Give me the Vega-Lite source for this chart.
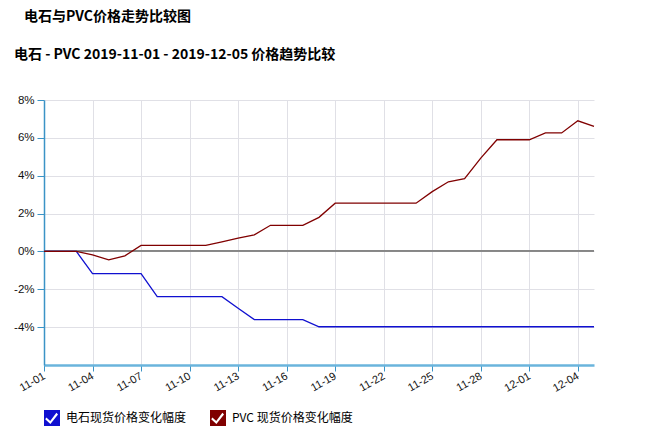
{
  "$schema": "https://vega.github.io/schema/vega-lite/v6.json",
  "width": 550,
  "height": 265,
  "autosize": {"type": "none"},
  "padding": {"left": 44, "top": 100, "right": 52, "bottom": 70},
  "background": "#ffffff",
  "title": {
    "text": "\u2800电石与PVC价格走势比较图",
    "subtitle": "电石 - PVC 2019-11-01 - 2019-12-05 价格趋势比较",
    "anchor": "start",
    "frame": "group",
    "dx": -30,
    "offset": 32,
    "font": "Noto Sans CJK SC",
    "fontSize": 14,
    "fontWeight": "bold",
    "color": "#000000",
    "subtitleFont": "Noto Sans CJK SC",
    "subtitleFontSize": 14,
    "subtitleFontWeight": "bold",
    "subtitleColor": "#000000",
    "subtitlePadding": 24
  },
  "data": {
    "values": [
      {"date": "2019-11-01", "series": "电石现货价格变化幅度", "value": 0},
      {"date": "2019-11-02", "series": "电石现货价格变化幅度", "value": 0},
      {"date": "2019-11-03", "series": "电石现货价格变化幅度", "value": 0},
      {"date": "2019-11-04", "series": "电石现货价格变化幅度", "value": -1.17},
      {"date": "2019-11-05", "series": "电石现货价格变化幅度", "value": -1.17},
      {"date": "2019-11-06", "series": "电石现货价格变化幅度", "value": -1.17},
      {"date": "2019-11-07", "series": "电石现货价格变化幅度", "value": -1.17},
      {"date": "2019-11-08", "series": "电石现货价格变化幅度", "value": -2.39},
      {"date": "2019-11-09", "series": "电石现货价格变化幅度", "value": -2.39},
      {"date": "2019-11-10", "series": "电石现货价格变化幅度", "value": -2.39},
      {"date": "2019-11-11", "series": "电石现货价格变化幅度", "value": -2.39},
      {"date": "2019-11-12", "series": "电石现货价格变化幅度", "value": -2.39},
      {"date": "2019-11-13", "series": "电石现货价格变化幅度", "value": -3.0},
      {"date": "2019-11-14", "series": "电石现货价格变化幅度", "value": -3.6},
      {"date": "2019-11-15", "series": "电石现货价格变化幅度", "value": -3.6},
      {"date": "2019-11-16", "series": "电石现货价格变化幅度", "value": -3.6},
      {"date": "2019-11-17", "series": "电石现货价格变化幅度", "value": -3.6},
      {"date": "2019-11-18", "series": "电石现货价格变化幅度", "value": -3.98},
      {"date": "2019-11-19", "series": "电石现货价格变化幅度", "value": -3.98},
      {"date": "2019-11-20", "series": "电石现货价格变化幅度", "value": -3.98},
      {"date": "2019-11-21", "series": "电石现货价格变化幅度", "value": -3.98},
      {"date": "2019-11-22", "series": "电石现货价格变化幅度", "value": -3.98},
      {"date": "2019-11-23", "series": "电石现货价格变化幅度", "value": -3.98},
      {"date": "2019-11-24", "series": "电石现货价格变化幅度", "value": -3.98},
      {"date": "2019-11-25", "series": "电石现货价格变化幅度", "value": -3.98},
      {"date": "2019-11-26", "series": "电石现货价格变化幅度", "value": -3.98},
      {"date": "2019-11-27", "series": "电石现货价格变化幅度", "value": -3.98},
      {"date": "2019-11-28", "series": "电石现货价格变化幅度", "value": -3.98},
      {"date": "2019-11-29", "series": "电石现货价格变化幅度", "value": -3.98},
      {"date": "2019-11-30", "series": "电石现货价格变化幅度", "value": -3.98},
      {"date": "2019-12-01", "series": "电石现货价格变化幅度", "value": -3.98},
      {"date": "2019-12-02", "series": "电石现货价格变化幅度", "value": -3.98},
      {"date": "2019-12-03", "series": "电石现货价格变化幅度", "value": -3.98},
      {"date": "2019-12-04", "series": "电石现货价格变化幅度", "value": -3.98},
      {"date": "2019-12-05", "series": "电石现货价格变化幅度", "value": -3.98},
      {"date": "2019-11-01", "series": "PVC 现货价格变化幅度", "value": 0},
      {"date": "2019-11-02", "series": "PVC 现货价格变化幅度", "value": 0},
      {"date": "2019-11-03", "series": "PVC 现货价格变化幅度", "value": 0},
      {"date": "2019-11-04", "series": "PVC 现货价格变化幅度", "value": -0.18},
      {"date": "2019-11-05", "series": "PVC 现货价格变化幅度", "value": -0.44},
      {"date": "2019-11-06", "series": "PVC 现货价格变化幅度", "value": -0.23},
      {"date": "2019-11-07", "series": "PVC 现货价格变化幅度", "value": 0.32},
      {"date": "2019-11-08", "series": "PVC 现货价格变化幅度", "value": 0.32},
      {"date": "2019-11-09", "series": "PVC 现货价格变化幅度", "value": 0.32},
      {"date": "2019-11-10", "series": "PVC 现货价格变化幅度", "value": 0.32},
      {"date": "2019-11-11", "series": "PVC 现货价格变化幅度", "value": 0.32},
      {"date": "2019-11-12", "series": "PVC 现货价格变化幅度", "value": 0.51},
      {"date": "2019-11-13", "series": "PVC 现货价格变化幅度", "value": 0.7},
      {"date": "2019-11-14", "series": "PVC 现货价格变化幅度", "value": 0.88},
      {"date": "2019-11-15", "series": "PVC 现货价格变化幅度", "value": 1.38},
      {"date": "2019-11-16", "series": "PVC 现货价格变化幅度", "value": 1.38},
      {"date": "2019-11-17", "series": "PVC 现货价格变化幅度", "value": 1.38},
      {"date": "2019-11-18", "series": "PVC 现货价格变化幅度", "value": 1.8},
      {"date": "2019-11-19", "series": "PVC 现货价格变化幅度", "value": 2.55},
      {"date": "2019-11-20", "series": "PVC 现货价格变化幅度", "value": 2.55},
      {"date": "2019-11-21", "series": "PVC 现货价格变化幅度", "value": 2.55},
      {"date": "2019-11-22", "series": "PVC 现货价格变化幅度", "value": 2.55},
      {"date": "2019-11-23", "series": "PVC 现货价格变化幅度", "value": 2.55},
      {"date": "2019-11-24", "series": "PVC 现货价格变化幅度", "value": 2.55},
      {"date": "2019-11-25", "series": "PVC 现货价格变化幅度", "value": 3.16},
      {"date": "2019-11-26", "series": "PVC 现货价格变化幅度", "value": 3.68},
      {"date": "2019-11-27", "series": "PVC 现货价格变化幅度", "value": 3.85},
      {"date": "2019-11-28", "series": "PVC 现货价格变化幅度", "value": 4.93},
      {"date": "2019-11-29", "series": "PVC 现货价格变化幅度", "value": 5.9},
      {"date": "2019-11-30", "series": "PVC 现货价格变化幅度", "value": 5.9},
      {"date": "2019-12-01", "series": "PVC 现货价格变化幅度", "value": 5.9},
      {"date": "2019-12-02", "series": "PVC 现货价格变化幅度", "value": 6.26},
      {"date": "2019-12-03", "series": "PVC 现货价格变化幅度", "value": 6.26},
      {"date": "2019-12-04", "series": "PVC 现货价格变化幅度", "value": 6.9},
      {"date": "2019-12-05", "series": "PVC 现货价格变化幅度", "value": 6.61}
    ]
  },
  "layer": [
    {
      "mark": {"type": "rule", "color": "#8a8a8a", "strokeWidth": 1},
      "encoding": {"y": {"datum": 0, "type": "quantitative"}}
    },
    {
      "mark": {"type": "line", "strokeWidth": 1.3, "interpolate": "linear"},
      "encoding": {
        "x": {
          "field": "date",
          "type": "temporal",
          "scale": {"type": "utc", "domain": [{"year": 2019, "month": 11, "date": 1, "utc": true}, {"year": 2019, "month": 12, "date": 5, "utc": true}], "nice": false},
          "axis": {
            "title": null,
            "values": [
              {"year": 2019, "month": 11, "date": 1, "utc": true},
              {"year": 2019, "month": 11, "date": 4, "utc": true},
              {"year": 2019, "month": 11, "date": 7, "utc": true},
              {"year": 2019, "month": 11, "date": 10, "utc": true},
              {"year": 2019, "month": 11, "date": 13, "utc": true},
              {"year": 2019, "month": 11, "date": 16, "utc": true},
              {"year": 2019, "month": 11, "date": 19, "utc": true},
              {"year": 2019, "month": 11, "date": 22, "utc": true},
              {"year": 2019, "month": 11, "date": 25, "utc": true},
              {"year": 2019, "month": 11, "date": 28, "utc": true},
              {"year": 2019, "month": 12, "date": 1, "utc": true},
              {"year": 2019, "month": 12, "date": 4, "utc": true}
            ],
            "labelExpr": "utcFormat(datum.value, '%m-%d')",
            "labelAngle": -30,
            "labelAlign": "right",
            "labelBaseline": "middle",
            "labelPadding": 4,
            "labelFont": "Liberation Sans",
            "labelFontSize": 11,
            "labelColor": "#111111",
            "domainColor": "#6ab4dc",
            "domainWidth": 2.5,
            "tickColor": "#3b93c6",
            "tickSize": 6,
            "tickWidth": 1,
            "grid": true,
            "gridColor": "#e0e0e6",
            "gridWidth": 1
          }
        },
        "y": {
          "field": "value",
          "type": "quantitative",
          "scale": {"domain": [-6, 8], "nice": false, "zero": false},
          "axis": {
            "title": null,
            "values": [-4, -2, 0, 2, 4, 6, 8],
            "labelExpr": "datum.value + '%'",
            "labelFont": "Liberation Sans",
            "labelFontSize": 11.5,
            "labelColor": "#111111",
            "labelPadding": 3,
            "domainColor": "#3b93c6",
            "domainWidth": 1.5,
            "tickColor": "#3b93c6",
            "tickSize": 7,
            "grid": true,
            "gridColor": "#e0e0e6",
            "gridWidth": 1
          }
        },
        "color": {
          "field": "series",
          "type": "nominal",
          "scale": {"domain": ["电石现货价格变化幅度", "PVC 现货价格变化幅度"], "range": ["#1010d0", "#800000"]},
          "legend": {
            "title": null,
            "orient": "none",
            "legendX": 0,
            "legendY": 310,
            "direction": "horizontal",
            "padding": 0,
            "columnPadding": 23,
            "symbolType": "M-1,-1H1V1H-1Z M-0.85,0.15L-0.2,0.75L0.75,-0.45L0.55,-0.65L-0.22,0.38L-0.7,-0.05Z",
            "symbolSize": 256,
            "symbolStrokeWidth": 0,
            "symbolOffset": 0,
            "labelFont": "Noto Sans CJK SC",
            "labelFontSize": 12,
            "labelColor": "#000000",
            "labelOffset": 6,
            "encode": {
              "symbols": {"update": {"fill": {"scale": "color", "field": "value"}, "fillOpacity": {"value": 1}, "strokeWidth": {"value": 0}}}
            }
          }
        }
      }
    }
  ],
  "config": {"view": {"stroke": null}}
}
